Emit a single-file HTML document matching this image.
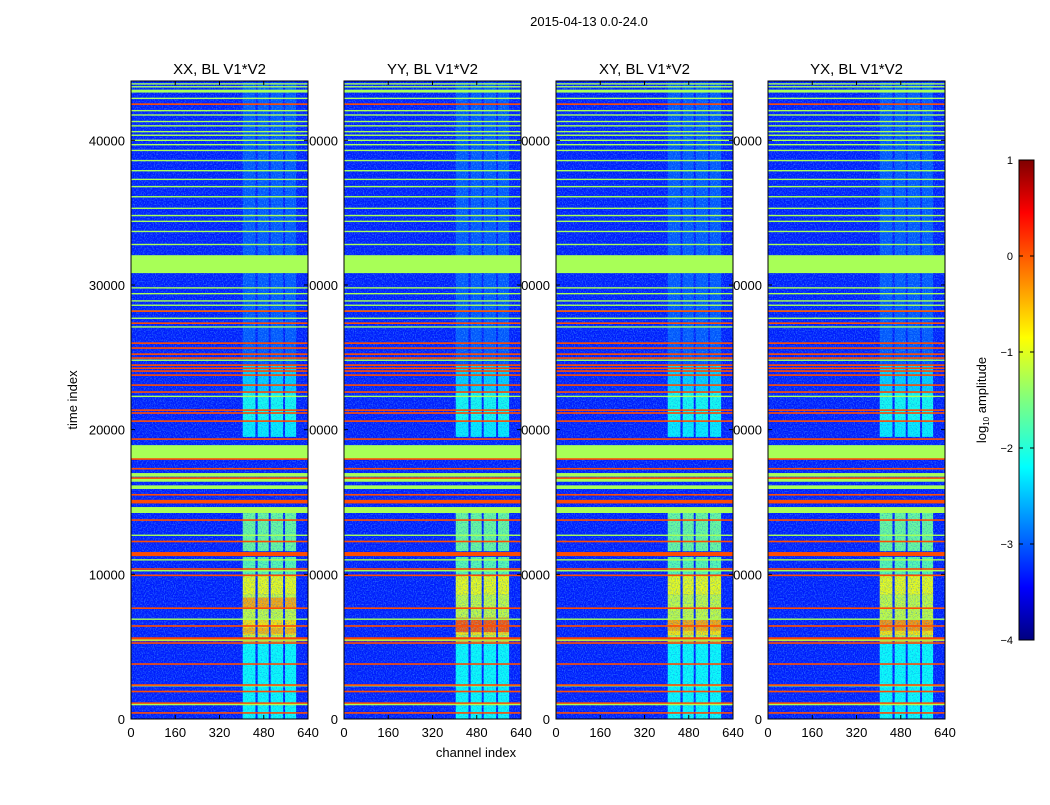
<!DOCTYPE html>
<html><head><meta charset="utf-8">
<style>
body{margin:0;background:#fff;}
svg text{font-family:"Liberation Sans",sans-serif;fill:#000;}
</style></head>
<body>
<svg id="fig" xmlns="http://www.w3.org/2000/svg" width="1050" height="800" viewBox="0 0 1050 800">
<defs>
<filter id="speckle" x="0" y="0" width="100%" height="100%">
<feTurbulence type="fractalNoise" baseFrequency="0.9 0.7" numOctaves="1" seed="3" result="n"/>
<feColorMatrix type="matrix" values="0 0 0 0 0.1  0 0 0 0 0.6  0 0 0 0 1  0 0 0 2.2 -0.95"/>
</filter>
<filter id="speckleDark" x="0" y="0" width="100%" height="100%">
<feTurbulence type="fractalNoise" baseFrequency="0.8 0.9" numOctaves="1" seed="11" result="n"/>
<feColorMatrix type="matrix" values="0 0 0 0 0  0 0 0 0 0.05  0 0 0 0 0.75  0 0 0 2.2 -1.0"/>
</filter>
<linearGradient id="jet" x1="0" y1="1" x2="0" y2="0">
<stop offset="0" stop-color="#00007f"/><stop offset="0.11" stop-color="#0000ff"/>
<stop offset="0.36" stop-color="#00ffff"/><stop offset="0.5" stop-color="#7fff7f"/>
<stop offset="0.63" stop-color="#ffff00"/><stop offset="0.89" stop-color="#ff0000"/>
<stop offset="1" stop-color="#7f0000"/></linearGradient>
</defs>
<text x="589" y="26" font-size="13" text-anchor="middle">2015-04-13 0.0-24.0</text>
<g id="labels"></g>
<g id="panels"></g>
<text x="476" y="757" font-size="13" text-anchor="middle">channel index</text>
<text transform="translate(77,400) rotate(-90)" font-size="13" text-anchor="middle">time index</text>
<g>
<rect x="1019" y="160" width="15" height="480" fill="url(#jet)" stroke="#000" stroke-width="1"/>
<g id="cbticks"></g>
<text transform="translate(986,400) rotate(-90)" font-size="13" text-anchor="middle">log<tspan font-size="8" dy="3">10</tspan><tspan dy="-3"> amplitude</tspan></text>
</g>
</svg>
<script>
const panelTitles = ["XX, BL V1*V2","YY, BL V1*V2","XY, BL V1*V2","YX, BL V1*V2"];
const xTicks = [0,160,320,480,640];
const yTicks = [0,10000,20000,30000,40000];
const cbTicks = [-4,-3,-2,-1,0,1];
const backgroundLevel = -3.25;
const bands = [[30820,32060,-1.3],[17970,18930,-1.3],[14240,14650,-1.3],[16400,16700,-1.3],[15900,16150,-1.3],[16750,17000,-1.3],[43300,43500,-1.3],[11260,11540,0],[960,1150,0],[5370,5650,0.05],[14900,15150,0]];
const orangeLines = [42500,28190,27360,25980,25640,25220,24950,24460,24250,24050,23770,23080,22600,21350,21150,20590,19350,17970,17300,16650,15500,13750,12270,10370,9930,7660,6430,5250,3800,2350,1900,420];
const greenLines = [43900,43700,42900,42050,41750,41300,41000,40600,40350,40000,39700,39300,38600,37900,37300,36800,36100,35300,34800,34400,33700,32800,29800,29400,28900,28600,28200,27700,27100,24800,22300,12700,11000,10250,6900,5450,2300,1000];
const activity = [[0,5300,-2.1],[5300,5800,-1.2],[5800,6900,-0.75],[6900,8600,-1.15],[8600,10000,-0.95],[10000,11200,-1.7],[11600,14300,-1.6],[19500,20600,-2.2],[20600,22600,-2.05],[22600,24500,-2.35],[24500,44000,-2.95]];
const cols = [[404,450],[458,498],[505,550],[557,597]];
const hotSpots = [[[380,600,7700,8400,-0.45],[380,600,5900,6300,-0.5]],[[380,600,6000,7000,-0.05]],[[380,600,6100,6900,-0.45]],[[380,600,6100,6900,-0.35]]];
const panelX = [131,344,556,768], PW=177, PT=81, PB=719, TMAX=44100;
const NS="http://www.w3.org/2000/svg";
function jet(v){const n=Math.max(0,Math.min(1,(v+4)/5));const c=x=>Math.round(255*Math.max(0,Math.min(1,1.5-Math.abs(x))));return `rgb(${c(4*n-3)},${c(4*n-2)},${c(4*n-1)})`;}
function el(tag,attrs,parent){const e=document.createElementNS(NS,tag);for(const k in attrs)e.setAttribute(k,attrs[k]);parent.appendChild(e);return e;}
const yS=t=>PB-(t/TMAX)*(PB-PT);
const labels=document.getElementById('labels'), panels=document.getElementById('panels');
panelX.forEach((px,i)=>{
  const xS=c=>px+c/640*PW;
  yTicks.forEach(t=>{const tx=el('text',{x:px-6,y:yS(t)+5,'font-size':13,'text-anchor':'end'},labels);tx.textContent=t;
    
    });
  const g=el('g',{},panels);
  
  
  el('rect',{x:px,y:PT,width:PW,height:PB-PT,fill:jet(backgroundLevel)},g);
  activity.forEach(a=>cols.forEach(c=>{const r=el('rect',{x:xS(c[0]),y:yS(a[1]),width:xS(c[1])-xS(c[0]),height:yS(a[0])-yS(a[1]),fill:jet(a[2])},g);
    
    }));
  hotSpots[i].forEach(h=>cols.forEach(c=>{const r=el('rect',{x:xS(Math.max(c[0],h[0])),y:yS(h[3]),width:xS(Math.min(c[1],h[1]))-xS(Math.max(c[0],h[0])),height:yS(h[2])-yS(h[3]),fill:jet(h[4])},g);
    
    }));
  el('rect',{x:px,y:PT,width:PW,height:PB-PT,filter:'url(#speckle)',opacity:0.6},g);
  el('rect',{x:px,y:PT,width:PW,height:PB-PT,filter:'url(#speckleDark)',opacity:0.5},g);
  bands.forEach(b=>{const r=el('rect',{x:px,y:yS(b[1]),width:PW,height:yS(b[0])-yS(b[1]),fill:jet(b[2])},g);
    
    });
  greenLines.forEach(t=>{const r=el('rect',{x:px,y:yS(t)-0.7,width:PW,height:1.4,fill:jet(-1.3)},g);
    
    });
  orangeLines.forEach(t=>{const r=el('rect',{x:px,y:yS(t)-0.8,width:PW,height:1.6,fill:jet(0)},g);
    
    });
  el('rect',{x:px,y:PT,width:PW,height:PB-PT,fill:'none',stroke:'#000','stroke-width':1},g);
  xTicks.forEach(c=>{el('line',{x1:xS(c),x2:xS(c),y1:PB,y2:PB-4,stroke:'#000'},g);el('line',{x1:xS(c),x2:xS(c),y1:PT,y2:PT+4,stroke:'#000'},g);
    const tx=el('text',{x:xS(c),y:737,'font-size':13,'text-anchor':'middle'},g);tx.textContent=c;
    
    });
  yTicks.forEach(t=>{el('line',{x1:px,x2:px+4,y1:yS(t),y2:yS(t),stroke:'#000'},g);el('line',{x1:px+PW,x2:px+PW-4,y1:yS(t),y2:yS(t),stroke:'#000'},g);});
  const tt=el('text',{x:px+PW/2,y:74,'font-size':15,'text-anchor':'middle'},g);tt.textContent=panelTitles[i];
  
  
});
const cb=document.getElementById('cbticks');
cbTicks.forEach(v=>{const y=640-(v+4)/5*480;el('line',{x1:1019,x2:1023,y1:y,y2:y,stroke:'#000'},cb);el('line',{x1:1034,x2:1030,y1:y,y2:y,stroke:'#000'},cb);
  const tx=el('text',{x:1013,y:y+4,'font-size':11,'text-anchor':'end'},cb);tx.textContent=v<0?'\u2212'+(-v):v;
  
  });
</script>
</body></html>
